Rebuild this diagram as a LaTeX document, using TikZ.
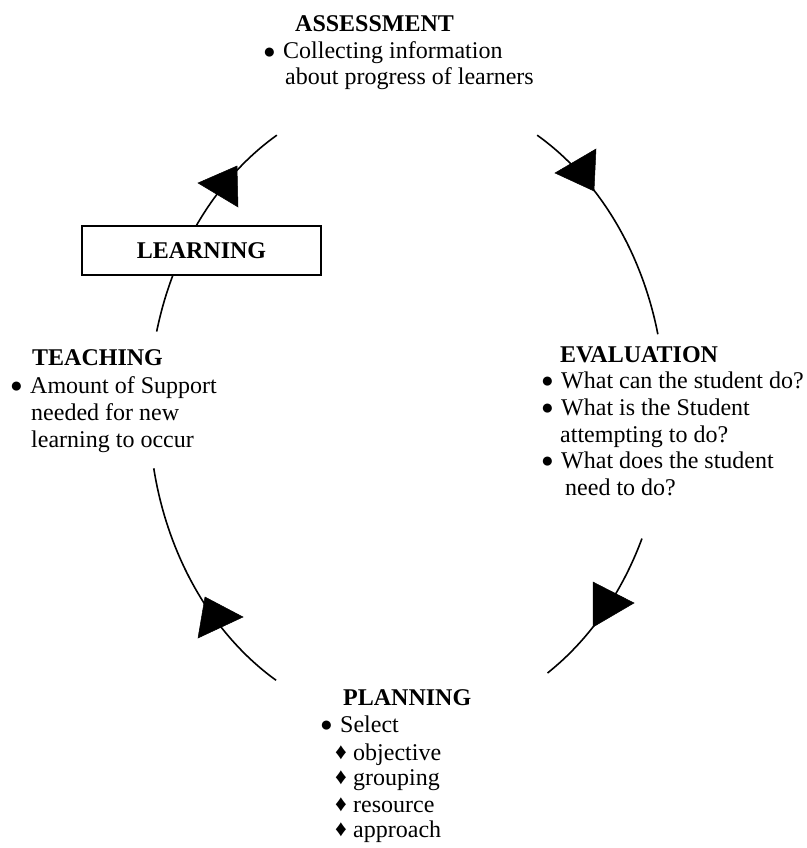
\documentclass[tikz,border=0pt]{standalone}
\usepackage{fontspec}
\setmainfont{Liberation Serif}
\newcommand{\bulsym}{\hspace{-2pt}\raisebox{0.5pt}{\fontsize{21}{21}\selectfont ●}}
\newcommand{\diasym}{\raisebox{0.5pt}{\fontsize{23}{23}\selectfont ♦}}
\newcommand{\bitem}[1]{\makebox[18pt][l]{\bulsym}#1}
\newcommand{\ditem}[1]{\makebox[18pt][l]{\diasym}#1}
\begin{document}
\begin{tikzpicture}[x=1pt,y=-1pt,
  txt/.style={anchor=base west, inner sep=0pt, font=\fontsize{24}{26}\selectfont},
  ttl/.style={anchor=base west, inner sep=0pt, font=\fontsize{24}{26}\selectfont\bfseries},
  arcline/.style={line width=1.6pt},
  tri/.style={fill=black, draw=black, line width=0.5pt, line join=miter},
  boxnode/.style={draw, line width=1.4pt, fill=white, minimum width=239pt, minimum height=49pt, inner sep=0pt, font=\fontsize{24}{26}\selectfont\bfseries}]
\useasboundingbox (0,0) rectangle (806,848);

% cycle arcs
\draw[arcline] plot[domain=120.3:166, samples=40, smooth] ({407+258*cos(\x)},{408-316*sin(\x)});
\draw[arcline] plot[domain=59.7:13.5, samples=40, smooth] ({407+258*cos(\x)},{408-316*sin(\x)});
\draw[arcline] plot[domain=-24.4:-57, samples=40, smooth] ({407+258*cos(\x)},{408-316*sin(\x)});
\draw[arcline] plot[domain=191:239.5, samples=40, smooth] ({407+258*cos(\x)},{408-316*sin(\x)});

% arrowheads
\fill[tri] (198,183) -- (237,166) -- (238,207) -- cycle;
\fill[tri] (555,173) -- (596,149) -- (594,191) -- cycle;
\fill[tri] (593,582) -- (593,627) -- (634,603) -- cycle;
\fill[tri] (205,597) -- (198,638) -- (243,617) -- cycle;

% LEARNING box
\node[boxnode] (learn) at (201.5,250.5) {LEARNING};

% ASSESSMENT
\node[ttl] (assT) at (295,32) {ASSESSMENT};
\node[txt] (ass1) at (265,59) {\bitem{Collecting information}};
\node[txt] (ass2) at (285,85) {about progress of learners};

% TEACHING
\node[ttl] (teaT) at (32,365) {TEACHING};
\node[txt] (tea1) at (12,393) {\bitem{Amount of Support}};
\node[txt] (tea2) at (31,420) {needed for new};
\node[txt] (tea3) at (31,447) {learning to occur};

% EVALUATION
\node[ttl] (evaT) at (560,362) {EVALUATION};
\node[txt] (eva1) at (543,388) {\bitem{What can the student do?}};
\node[txt] (eva2) at (543,415) {\bitem{What is the Student}};
\node[txt] (eva3) at (560,442) {attempting to do?};
\node[txt] (eva4) at (543,468) {\bitem{What does the student}};
\node[txt] (eva5) at (565,495) {need to do?};

% PLANNING
\node[ttl] (plaT) at (343,705) {PLANNING};
\node[txt] (pla1) at (322,732) {\bitem{Select}};
\node[txt] (pla2) at (335,760) {\ditem{objective}};
\node[txt] (pla3) at (335,785) {\ditem{grouping}};
\node[txt] (pla4) at (335,812) {\ditem{resource}};
\node[txt] (pla5) at (335,837) {\ditem{approach}};
\end{tikzpicture}
\end{document}
